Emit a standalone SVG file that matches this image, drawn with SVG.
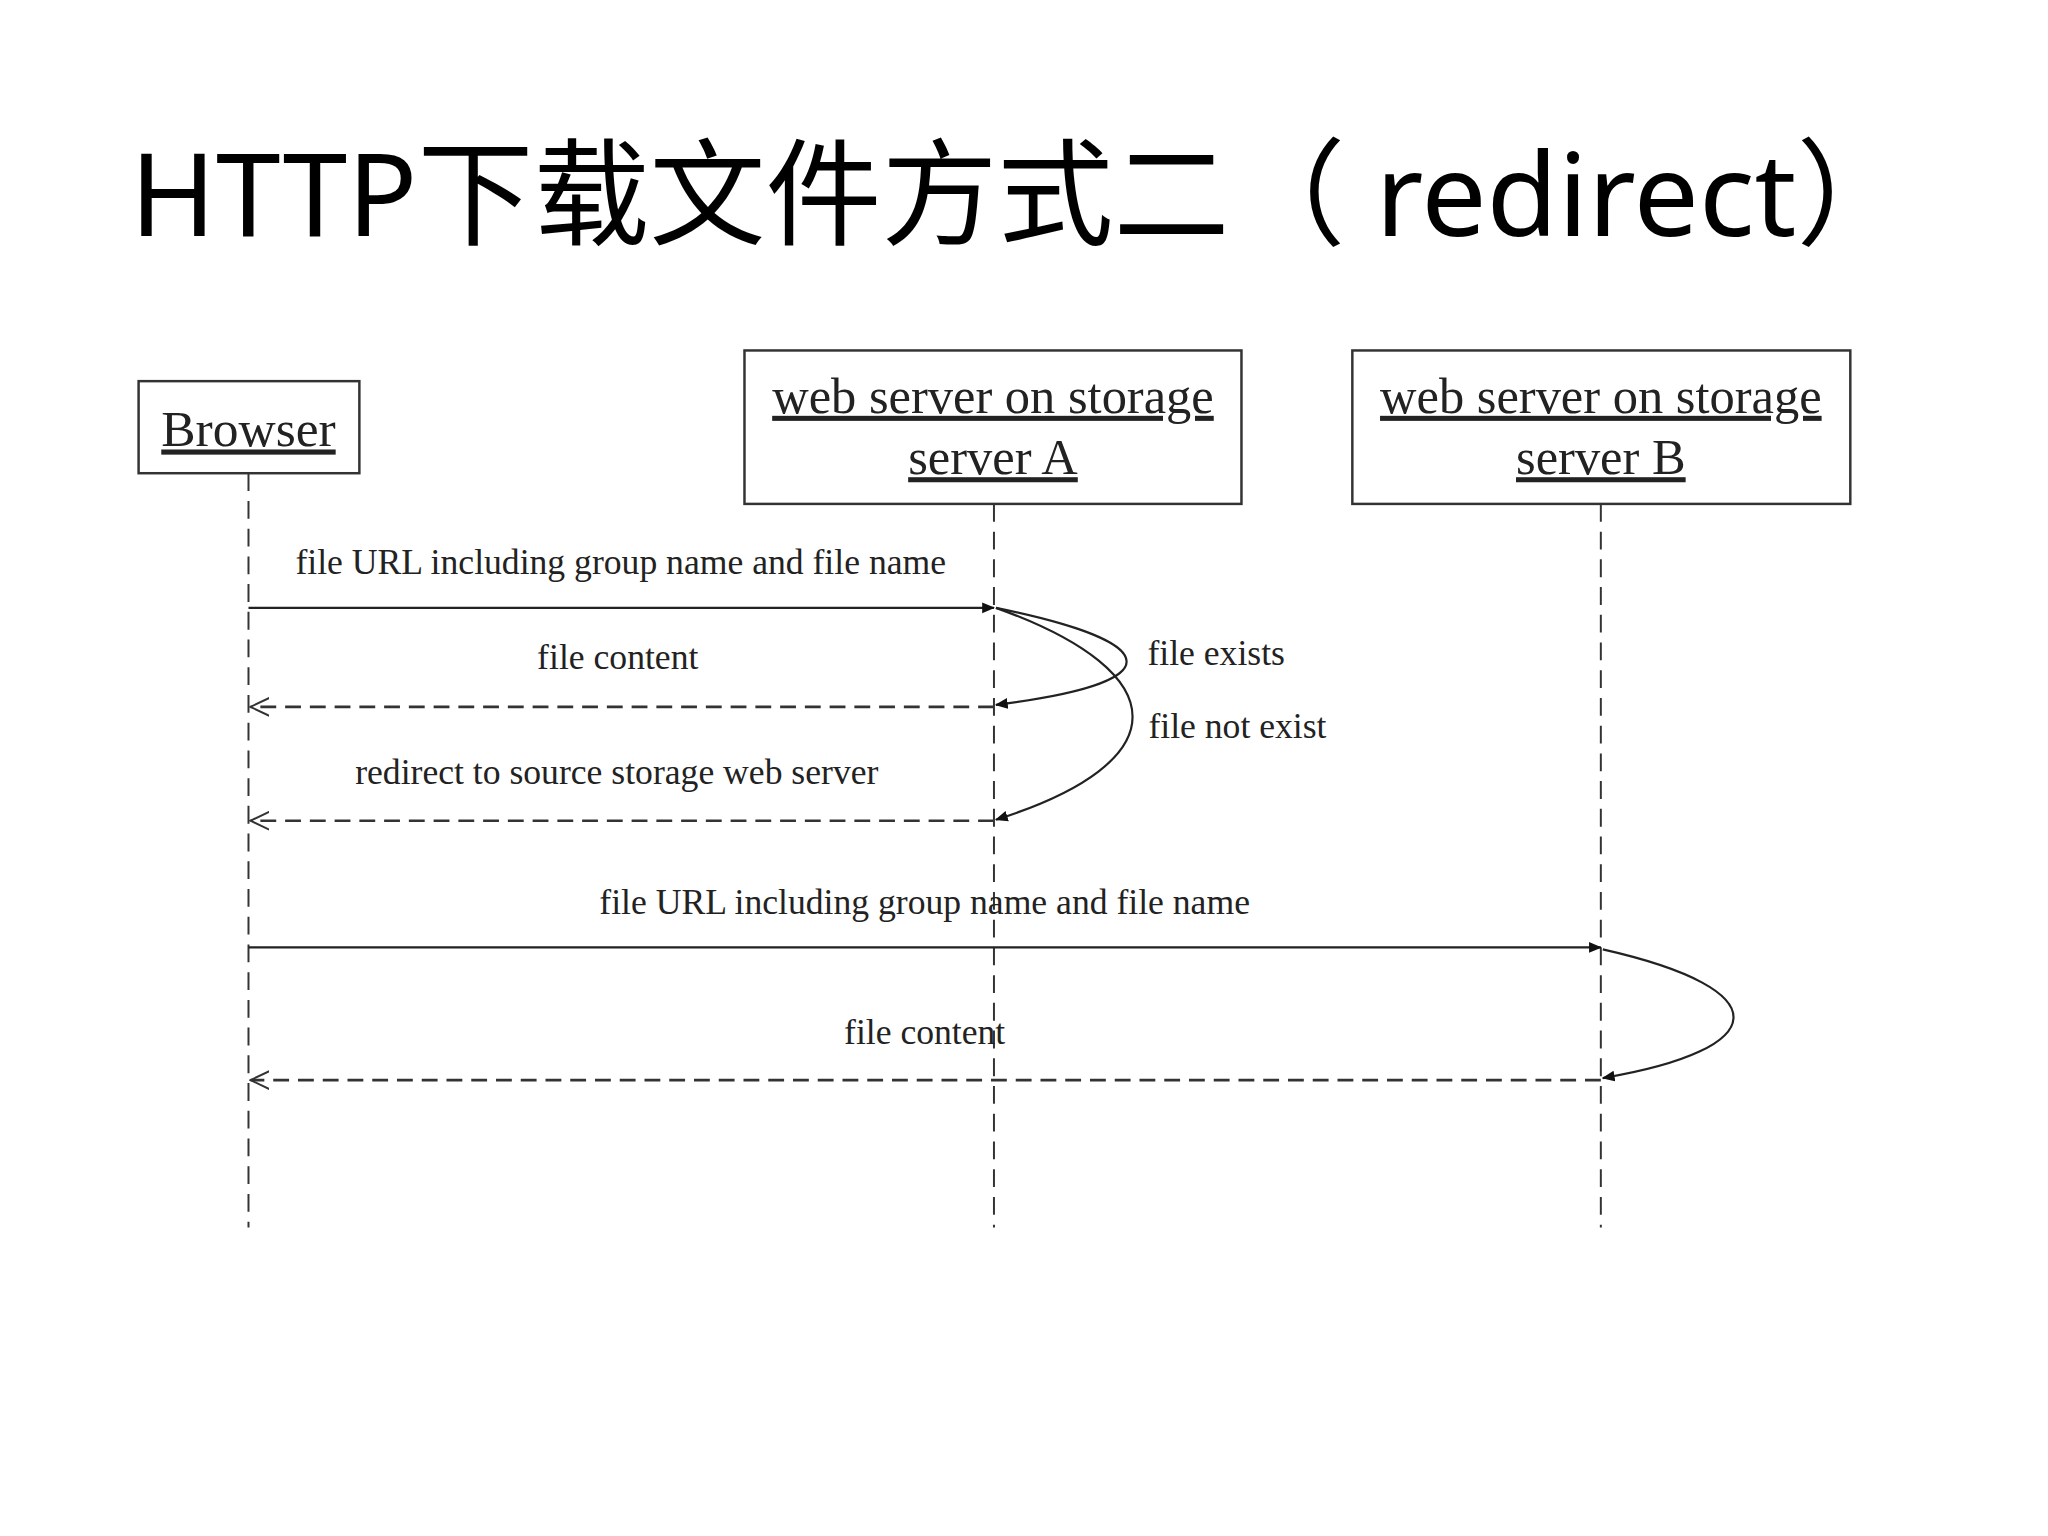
<svg xmlns="http://www.w3.org/2000/svg" width="2048" height="1536" viewBox="0 0 2048 1536">
<defs>
<style>
.box{fill:#fff;stroke:#333;stroke-width:2.5}
.t{font-family:"Liberation Serif",serif;fill:#222;text-decoration:underline;text-anchor:middle}
.lbl{font-family:"Liberation Serif",serif;font-size:36px;fill:#222;text-anchor:middle}
.lbs{font-family:"Liberation Serif",serif;font-size:36px;fill:#222}
.life{stroke:#333;stroke-width:2;stroke-dasharray:18 10;fill:none}
.msg{stroke:#222;stroke-width:2.2;fill:none}
.ret{stroke:#333;stroke-width:2.6;stroke-dasharray:16 9;fill:none}
</style>
<marker id="fa" viewBox="0 0 12 12" refX="11" refY="6" markerWidth="13" markerHeight="13" markerUnits="userSpaceOnUse" orient="auto"><path d="M0,1 L12,6 L0,11 Z" fill="#111"/></marker>
<marker id="oa" viewBox="0 0 20 20" refX="19" refY="10" markerWidth="20" markerHeight="20" markerUnits="userSpaceOnUse" orient="auto"><path d="M0,1 L19,10 L0,19" fill="none" stroke="#333" stroke-width="2"/></marker>
</defs>
<rect width="2048" height="1536" fill="#fff"/>
<text x="130" y="236" font-family="'Noto Sans','Noto Sans CJK SC',sans-serif" font-size="116" fill="#000">HTTP下载文件方式二（ redirect）</text>
<g transform="scale(0.99)">
<g id="browser"><rect class="box" x="140" y="385" width="223" height="93"/><text class="t" x="251" y="451" font-size="52">Browser</text></g>
<g id="serverA"><rect class="box" x="752" y="354" width="502" height="155"/><text class="t" x="1003" y="417" font-size="51">web server on storage</text><text class="t" x="1003" y="479" font-size="51">server A</text></g>
<g id="serverB"><rect class="box" x="1366" y="354" width="503" height="155"/><text class="t" x="1617" y="417" font-size="51">web server on storage</text><text class="t" x="1617" y="479" font-size="51">server B</text></g>
<g id="connectors">
<path class="life" d="M251,478 V1240 M1004,509 V1240 M1617,509 V1240"/>
<path class="msg" d="M251,614 H1004" marker-end="url(#fa)"/>
<path class="ret" d="M1004,714 H253" marker-end="url(#oa)"/>
<path class="ret" d="M1004,829 H253" marker-end="url(#oa)"/>
<path class="msg" d="M251,957 H1617" marker-end="url(#fa)"/>
<path class="ret" d="M1617,1091 H253" marker-end="url(#oa)"/>
<path class="msg" d="M1006,614 C1182,650 1182,690 1006,712" marker-end="url(#fa)"/>
<path class="msg" d="M1006,614 C1190,680 1190,770 1006,828" marker-end="url(#fa)"/>
<path class="msg" d="M1619,959 C1800,1000 1790,1060 1619,1089" marker-end="url(#fa)"/>
</g>
<g id="labels">
<text class="lbl" x="627" y="580">file URL including group name and file name</text>
<text class="lbl" x="624" y="676">file content</text>
<text class="lbl" x="623" y="792">redirect to source storage web server</text>
<text class="lbl" x="934" y="923">file URL including group name and file name</text>
<text class="lbl" x="934" y="1055">file content</text>
<text class="lbs" x="1159" y="672">file exists</text>
<text class="lbs" x="1160" y="745">file not exist</text>
</g>
</g>
</svg>
